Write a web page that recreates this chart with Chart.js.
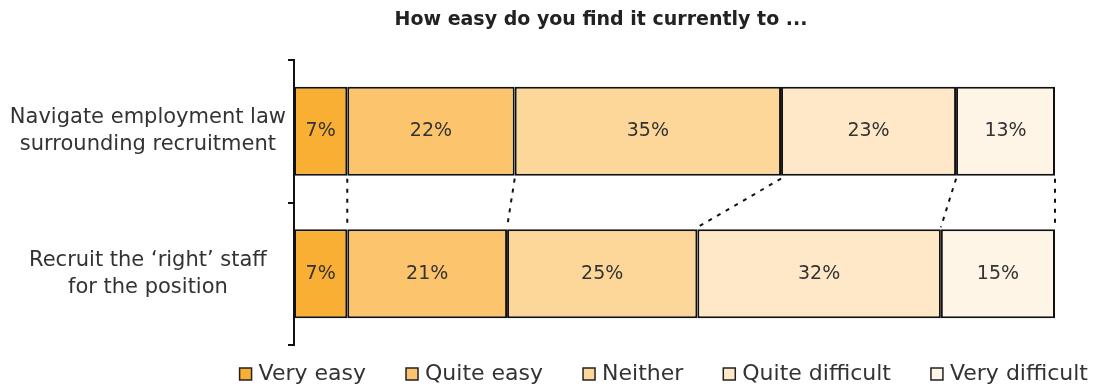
<!DOCTYPE html>
<html>
<head>
<meta charset="utf-8">
<script src="https://cdn.jsdelivr.net/npm/chart.js@4.4.1/dist/chart.umd.min.js"></script>
<style>
  body { margin: 0; background: #fff; }
  #wrap { width: 1108px; height: 386px; }
</style>
</head>
<body>
<div id="wrap"><canvas id="easeChart" width="1108" height="386"></canvas></div>
<script>
const questions = [
    ['Navigate employment law', 'surrounding recruitment'],
    ['Recruit the \u2018right\u2019 staff', 'for the position']
];
const answers = ['Very easy', 'Quite easy', 'Neither', 'Quite difficult', 'Very difficult'];
const veryEasy = [7, 7];
const quiteEasy = [22, 21];
const neither = [35, 25];
const quiteDifficult = [23, 32];
const veryDifficult = [13, 15];
const titleText = 'How easy do you find it currently to ...';

const colours = ['#F9AF33', '#FCC46C', '#FDD699', '#FEE8C8', '#FEF5E6'];
const fontName = '"DejaVu Sans", sans-serif';

const allSeries = [veryEasy, quiteEasy, neither, quiteDifficult, veryDifficult];

const datasets = allSeries.map((values, i) => {
    return {
        label: answers[i],
        data: values,
        backgroundColor: colours[i],
        borderColor: '#111',
        borderWidth: 2,
        borderSkipped: false,
        barPercentage: 0.78,
        categoryPercentage: 0.8
    };
});

// percentages written in the middle of each segment
const valueLabels = {
    id: 'valueLabels',
    afterDatasetsDraw(chart) {
        const ctx = chart.ctx;
        ctx.save();
        ctx.font = '19px ' + fontName;
        ctx.fillStyle = '#333';
        ctx.textAlign = 'center';
        ctx.textBaseline = 'middle';
        chart.data.datasets.forEach((ds, i) => {
            chart.getDatasetMeta(i).data.forEach((bar, j) => {
                const mid = (bar.x + bar.base) / 2;
                ctx.fillText(ds.data[j] + '%', mid, bar.y);
            });
        });
        ctx.restore();
    }
};

// dotted lines joining the segment ends of the two bars
const connectors = {
    id: 'connectors',
    afterDatasetsDraw(chart) {
        const ctx = chart.ctx;
        ctx.save();
        ctx.strokeStyle = '#111';
        ctx.lineWidth = 2;
        ctx.setLineDash([4, 6]);
        chart.data.datasets.forEach((ds, i) => {
            const bars = chart.getDatasetMeta(i).data;
            const top = bars[0];
            const bottom = bars[1];
            ctx.beginPath();
            ctx.moveTo(top.x, top.y + top.height / 2 + 3);
            ctx.lineTo(bottom.x, bottom.y - bottom.height / 2 - 2);
            ctx.stroke();
        });
        ctx.restore();
    }
};

// title and legend row drawn straight onto the canvas
const titleAndKey = {
    id: 'titleAndKey',
    afterDraw(chart) {
        const ctx = chart.ctx;
        ctx.save();
        ctx.font = 'bold 19px ' + fontName;
        ctx.fillStyle = '#222';
        ctx.textAlign = 'center';
        ctx.textBaseline = 'middle';
        ctx.fillText(titleText, 601, 20);

        ctx.font = '22px ' + fontName;
        ctx.textAlign = 'left';
        const gap = 40;
        const box = 12;
        const widths = chart.data.datasets.map((ds) => box + 7 + ctx.measureText(ds.label).width);
        const total = widths.reduce((a, b) => a + b, 0) + gap * (widths.length - 1);
        let x = 1088 - total;
        const y = 374;
        chart.data.datasets.forEach((ds, i) => {
            ctx.fillStyle = ds.backgroundColor;
            ctx.fillRect(x, y - box / 2, box, box);
            ctx.strokeStyle = '#222';
            ctx.lineWidth = 1.5;
            ctx.strokeRect(x, y - box / 2, box, box);
            ctx.fillStyle = '#333';
            ctx.fillText(ds.label, x + box + 7, y);
            x += widths[i] + gap;
        });
        ctx.restore();
    }
};

const ctx = document.getElementById('easeChart').getContext('2d');
const easeChart = new Chart(ctx, {
    type: 'bar',
    data: {
        labels: questions,
        datasets: datasets
    },
    options: {
        indexAxis: 'y',
        responsive: false,
        animation: false,
        layout: {
            padding: { top: 60, left: 0, right: 53, bottom: 41 }
        },
        scales: {
            x: {
                stacked: true,
                display: false,
                min: 0,
                max: 100
            },
            y: {
                stacked: true,
                grid: {
                    display: true,
                    offset: true,
                    drawOnChartArea: false,
                    color: '#111',
                    lineWidth: 2,
                    tickLength: 6
                },
                border: { display: true, color: '#111', width: 2 },
                ticks: {
                    crossAlign: 'center',
                    color: '#333',
                    font: { family: fontName, size: 21, lineHeight: 1.3 },
                    padding: 2
                },
                afterFit(scale) {
                    scale.width = 294;
                }
            }
        },
        plugins: {
            legend: { display: false },
            tooltip: { enabled: false }
        }
    },
    plugins: [valueLabels, connectors, titleAndKey]
});
</script>
</body>
</html>
